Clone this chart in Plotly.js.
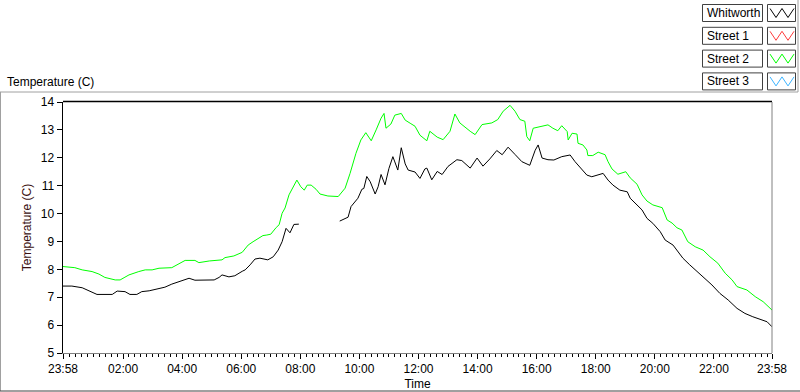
<!DOCTYPE html>
<html><head><meta charset="utf-8">
<script src="https://cdn.plot.ly/plotly-3.0.1.min.js"></script>
<style>html,body{margin:0;padding:0;background:#fff}#chart{width:800px;height:392px}</style>
</head><body><div id="chart"></div>
<script>
// ---- data ----
const seriesNames = ['Whitworth', 'Street 1', 'Street 2', 'Street 3'];
const seriesColors = ['#000000', '#ff3c3c', '#00ff00', '#3cb4ff'];

const whitworthTimes = ['23:58','00:08','00:16','00:37','00:51','01:07','01:38','01:48','02:04','02:14','02:28','02:38','02:53','03:13','03:25','03:39','03:56','04:14','04:26','04:46','05:05','05:15','05:21','05:35','05:47','06:02','06:08','06:18','06:28','06:38','06:54','07:05','07:15','07:23','07:31','07:39','07:47','07:57','08:40','09:20','09:31','09:37','09:43','09:51','09:57','10:05','10:09','10:15','10:22','10:32','10:38','10:44','10:52','11:00','11:08','11:12','11:18','11:25','11:33','11:39','11:49','11:53','12:03','12:13','12:17','12:27','12:38','12:48','13:00','13:18','13:28','13:45','13:59','14:11','14:25','14:39','14:50','15:02','15:16','15:30','15:46','15:57','16:03','16:11','16:23','16:35','16:51','17:08','17:18','17:32','17:42','17:52','18:03','18:15','18:25','18:35','18:49','19:04','19:10','19:24','19:34','19:44','19:56','20:11','20:21','20:37','20:47','20:57','21:11','21:26','21:38','21:56','22:12','22:29','22:47','23:03','23:19','23:34','23:48','23:58'];
const whitworthTemps = [7.40,7.40,7.40,7.34,7.23,7.10,7.10,7.22,7.20,7.10,7.10,7.20,7.23,7.32,7.36,7.47,7.58,7.68,7.61,7.61,7.62,7.71,7.80,7.73,7.77,7.93,7.98,8.16,8.37,8.40,8.34,8.45,8.69,8.99,9.47,9.31,9.61,9.62,null,9.73,9.83,9.87,10.25,10.43,10.55,10.87,10.90,11.33,11.14,10.70,10.96,11.40,11.03,11.62,12.04,11.85,11.56,12.36,11.78,11.56,11.50,11.49,11.26,11.60,11.63,11.21,11.51,11.40,11.69,11.93,11.90,11.63,11.99,11.70,11.96,12.26,12.11,12.38,12.12,11.86,11.73,12.27,12.46,11.99,11.93,11.92,12.04,12.10,11.86,11.56,11.38,11.32,11.38,11.44,11.20,11.02,10.84,10.78,10.55,10.31,10.13,9.83,9.65,9.35,9.05,8.87,8.63,8.40,8.16,7.92,7.74,7.44,7.14,6.90,6.60,6.42,6.30,6.22,6.12,5.94];

const street2Times = ['23:58','00:22','00:37','00:57','01:11','01:23','01:44','01:54','02:02','02:12','02:32','02:45','02:59','03:13','03:39','03:50','04:06','04:26','04:34','04:55','05:21','05:27','05:45','06:02','06:14','06:24','06:34','06:44','06:52','07:00','07:11','07:17','07:23','07:29','07:37','07:45','07:53','08:01','08:08','08:14','08:22','08:32','08:40','08:56','09:17','09:31','09:41','09:53','10:03','10:13','10:24','10:34','10:44','10:50','10:54','11:04','11:12','11:25','11:33','11:43','11:53','12:03','12:17','12:23','12:38','12:50','13:04','13:14','13:24','13:45','13:55','14:09','14:29','14:41','14:52','15:06','15:16','15:26','15:36','15:40','15:46','15:53','16:07','16:23','16:33','16:43','16:51','17:02','17:04','17:12','17:22','17:24','17:34','17:42','17:44','17:54','18:05','18:19','18:25','18:33','18:45','19:01','19:10','19:24','19:34','19:44','19:56','20:15','20:25','20:35','20:45','20:55','21:07','21:22','21:38','21:52','22:08','22:23','22:37','22:47','23:07','23:24','23:40','23:50','23:58'];
const street2Temps = [8.10,8.06,7.98,7.92,7.83,7.71,7.62,7.62,7.70,7.80,7.92,7.98,7.98,8.04,8.06,8.16,8.32,8.32,8.24,8.30,8.34,8.42,8.48,8.61,8.87,8.99,9.11,9.21,9.23,9.26,9.50,9.60,10.01,10.20,10.67,10.95,11.20,10.96,10.84,11.02,11.02,10.87,10.70,10.63,10.61,10.91,11.44,12.16,12.64,12.90,12.61,13.00,13.42,13.59,13.06,13.21,13.53,13.59,13.35,13.24,13.13,12.81,12.61,12.95,12.74,12.65,12.95,13.57,13.25,12.95,12.83,13.19,13.25,13.37,13.67,13.88,13.67,13.37,13.31,12.76,12.61,13.06,13.12,13.18,13.06,12.97,13.15,12.94,12.64,12.88,12.85,12.52,12.46,12.28,12.08,12.08,12.20,12.11,11.86,11.60,11.41,11.50,11.28,11.05,10.67,10.45,10.31,10.21,9.77,9.66,9.49,9.41,8.99,8.81,8.69,8.45,8.22,7.86,7.62,7.38,7.26,7.02,6.84,6.66,6.54];

const street1Times = [], street1Temps = [];
const street3Times = [], street3Temps = [];

const xTickTimes = ['23:58','02:00','04:00','06:00','08:00','10:00','12:00','14:00','16:00','18:00','20:00','22:00','23:58'];
const xTickLabels = ['23:58','02:00','04:00','06:00','08:00','10:00','12:00','14:00','16:00','18:00','20:00','22:00','23:58'];
const yTickValues = [5,6,7,8,9,10,11,12,13,14];

// ---- helpers ----
function toDates(times) {
  return times.map((t, i) => (i === 0 && t === '23:58' ? '2024-01-01 ' : '2024-01-02 ') + t + ':00');
}
const FONT = 'Liberation Sans, Arial, sans-serif';
// pixel -> paper conversions (plot area: x 63..772, y 102..353)
const L = 63, R = 772, T = 102, B = 353;
const px = x => (x - L) / (R - L);
const py = y => (B - y) / (B - T);

const traces = [
  {x: toDates(whitworthTimes), y: whitworthTemps, name: seriesNames[0]},
  {x: toDates(street1Times), y: street1Temps, name: seriesNames[1]},
  {x: toDates(street2Times), y: street2Temps, name: seriesNames[2]},
  {x: toDates(street3Times), y: street3Temps, name: seriesNames[3]}
].map((t, i) => Object.assign(t, {
  type: 'scatter', mode: 'lines', connectgaps: false,
  line: {color: seriesColors[i], width: 1}, showlegend: false, hoverinfo: 'x+y'
}));
// draw green beneath black like the reference order
const ordered = [traces[1], traces[3], traces[2], traces[0]];

const shapes = [];
const annotations = [];
function line(x0, y0, x1, y1, color, w) {
  shapes.push({type: 'line', xref: 'paper', yref: 'paper', x0: px(x0), y0: py(y0), x1: px(x1), y1: py(y1),
    line: {color: color, width: w || 1}});
}
function rect(x0, y0, x1, y1, color) {
  shapes.push({type: 'rect', xref: 'paper', yref: 'paper', x0: px(x0), y0: py(y0), x1: px(x1), y1: py(y1),
    line: {color: color, width: 1}, fillcolor: 'rgba(0,0,0,0)'});
}
// plot frame: top black, right gray
line(L, T - 0.5, R, T - 0.5, '#000000', 1.5);
line(R, T, R, B, '#808080', 1);
// outer panel frame
line(0.5, 92, 0.5, 391, '#a0a0a0', 1);
line(0, 92, 798, 92, '#a0a0a0', 1);
line(0, 391, 800, 391, '#404040', 1);
line(798, 0, 798, 92, '#a0a0a0', 1);

// legend (plot legend panel, top right)
seriesNames.forEach((name, i) => {
  const top = 4.5 + i * 22.8;
  rect(702.5, top, 762.5, top + 17, '#404040');
  rect(767.5, top, 795.5, top + 17, '#404040');
  annotations.push({xref: 'paper', yref: 'paper', x: px(705), y: py(top + 8.5), xanchor: 'left', yanchor: 'middle',
    text: name, showarrow: false, font: {family: FONT, size: 12, color: '#000'}});
  const pts = [[770, top + 4], [776, top + 13], [782, top + 4], [788, top + 13], [794, top + 4]];
  const path = 'M ' + pts.map(p => px(p[0]) + ',' + py(p[1])).join(' L ');
  shapes.push({type: 'path', xref: 'paper', yref: 'paper', path: path, line: {color: seriesColors[i], width: 1}});
});

// chart label top-left
annotations.push({xref: 'paper', yref: 'paper', x: px(5), y: py(82), xanchor: 'left', yanchor: 'middle',
  text: 'Temperature (C)', showarrow: false, font: {family: FONT, size: 12, color: '#000'}});

const layout = {
  width: 800, height: 392,
  margin: {l: L, r: 800 - R, t: T, b: 392 - B, pad: 0},
  paper_bgcolor: '#ffffff', plot_bgcolor: '#ffffff',
  showlegend: false,
  font: {family: FONT, size: 12, color: '#000'},
  xaxis: {
    type: 'date',
    range: ['2024-01-01 23:58:00', '2024-01-02 23:58:00'],
    tickmode: 'array', tickvals: toDates(xTickTimes), ticktext: xTickLabels,
    ticks: 'outside', ticklen: 5, tickwidth: 1, tickcolor: '#000',
    minor: {tick0: '2024-01-02 00:00:00', dtick: 720000, ticks: 'outside', ticklen: 3, tickcolor: '#000', tickwidth: 1, showgrid: false},
    showgrid: false, zeroline: false,
    showline: true, linecolor: '#808080', linewidth: 1,
    tickfont: {family: FONT, size: 12, color: '#000'},
    title: {text: 'Time', font: {family: FONT, size: 12, color: '#000'}, standoff: 4},
    fixedrange: true
  },
  yaxis: {
    range: [5, 14],
    tickmode: 'array', tickvals: yTickValues, ticktext: yTickValues.map(String),
    ticks: 'outside', ticklen: 5, tickwidth: 1, tickcolor: '#000',
    showgrid: false, zeroline: false,
    showline: true, linecolor: '#000', linewidth: 1.5,
    tickfont: {family: FONT, size: 12, color: '#000'},
    title: {text: 'Temperature (C)', font: {family: FONT, size: 12, color: '#3a1010'}, standoff: 6},
    fixedrange: true
  },
  shapes: shapes,
  annotations: annotations
};

Plotly.newPlot('chart', ordered, layout, {displayModeBar: false, staticPlot: true});
</script>
</body></html>
